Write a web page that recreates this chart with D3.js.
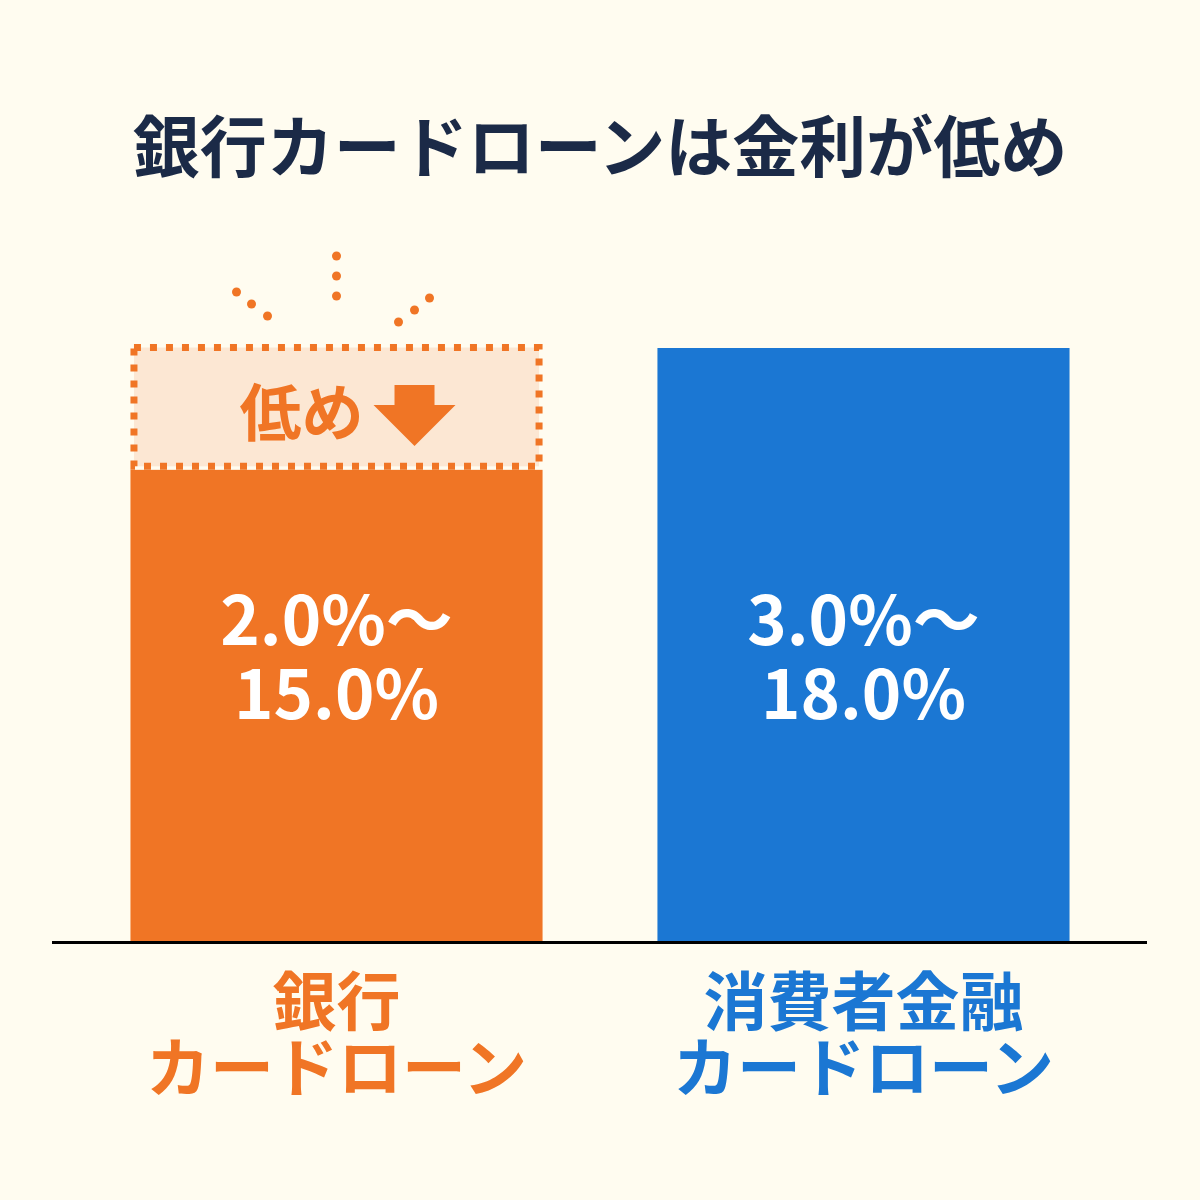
<!DOCTYPE html>
<html>
<head>
<meta charset="utf-8">
<script src="https://cdn.jsdelivr.net/npm/d3@7"></script>
<style>
  body { margin: 0; background: #fffcf0; }
  svg { display: block; font-family: "Noto Sans CJK JP", "Noto Sans", sans-serif; font-weight: 700; }
</style>
</head>
<body>
<div id="chart"></div>
<script>
var title = "銀行カードローンは金利が低め";
var categories = ["銀行カードローン", "消費者金融カードローン"];
var labelLines = [["銀行", "カードローン"], ["消費者金融", "カードローン"]];
var minRate = [2.0, 3.0];
var maxRate = [15.0, 18.0];
var colors = ["#f07525", "#1b77d3"];

var width = 1200, height = 1200;
var margin = {top: 348, right: 53, bottom: 259, left: 53};

var svg = d3.select("#chart").append("svg")
    .attr("width", width)
    .attr("height", height);

svg.append("rect").attr("width", width).attr("height", height).attr("fill", "#fffcf0");

var x = d3.scaleBand()
    .domain(categories)
    .range([margin.left, width - margin.right])
    .paddingInner(0.218)
    .paddingOuter(0.147);

// bars are drawn as an illustration, not from zero
var y = d3.scaleLinear()
    .domain([3.4, 18])
    .range([height - margin.bottom, margin.top]);

// title
svg.append("text")
    .attr("x", width / 2)
    .attr("y", 142)
    .attr("text-anchor", "middle")
    .attr("dominant-baseline", "central")
    .attr("fill", "#1b2a47")
    .style("font-size", "67px")
    .text(title);

// highlight box above the bank bar (gap up to the highest rate)
var topRate = d3.max(maxRate);
svg.append("rect")
    .attr("x", x(categories[0]) + 3.5)
    .attr("y", y(topRate) - 0.5)
    .attr("width", x.bandwidth() - 7)
    .attr("height", y(maxRate[0]) - y(topRate) - 3)
    .attr("fill", "#fce7d3")
    .attr("stroke", colors[0])
    .attr("stroke-width", 7)
    .attr("stroke-dasharray", "7 9");

var cx0 = x(categories[0]) + x.bandwidth() / 2;
var boxMid = (y(topRate) + y(maxRate[0])) / 2;

svg.append("text")
    .attr("x", cx0 - 35)
    .attr("y", boxMid)
    .attr("text-anchor", "middle")
    .attr("dominant-baseline", "central")
    .attr("fill", colors[0])
    .style("font-size", "62px")
    .text("低め");

// down arrow
var ax = cx0 + 78, ay = boxMid - 24;
svg.append("path")
    .attr("d", "M" + (ax - 20) + "," + ay + "h40v20h21l-41,41l-41,-41h21z")
    .attr("fill", colors[0]);

// burst dots (offsets from the top centre of the box)
var burst = [[0, -90], [0, -70], [0, -50],
             [-100, -54], [-85, -42], [-69, -30],
             [62, -24], [78, -36], [93, -48]];
svg.selectAll("circle.dot")
    .data(burst)
    .enter()
    .append("circle")
    .attr("class", "dot")
    .attr("cx", function(d) { return cx0 + d[0]; })
    .attr("cy", function(d) { return y(topRate) - 2 + d[1]; })
    .attr("r", 4.5)
    .attr("fill", colors[0]);

// bars
svg.selectAll("rect.bar")
    .data(categories)
    .enter()
    .append("rect")
    .attr("class", "bar")
    .attr("x", function(d) { return x(d); })
    .attr("y", function(d, i) { return y(maxRate[i]); })
    .attr("width", x.bandwidth())
    .attr("height", function(d, i) { return y.range()[0] - y(maxRate[i]); })
    .attr("fill", function(d, i) { return colors[i]; });

// rate labels inside bars
categories.forEach(function(c, i) {
  var t = svg.append("text")
      .attr("x", x(c) + x.bandwidth() / 2)
      .attr("text-anchor", "middle")
      .attr("fill", "#fff")
      .style("font-size", "67px");
  t.append("tspan")
      .attr("x", x(c) + x.bandwidth() / 2)
      .attr("y", 645)
      .text(minRate[i].toFixed(1) + "%～");
  t.append("tspan")
      .attr("x", x(c) + x.bandwidth() / 2)
      .attr("y", 719)
      .text(maxRate[i].toFixed(1) + "%");
});

// baseline
svg.append("line")
    .attr("x1", margin.left - 1)
    .attr("x2", width - margin.right)
    .attr("y1", y.range()[0] + 1.5)
    .attr("y2", y.range()[0] + 1.5)
    .attr("stroke", "#000")
    .attr("stroke-width", 3);

// category labels
categories.forEach(function(c, i) {
  labelLines[i].forEach(function(line, j) {
    svg.append("text")
      .attr("x", x(c) + x.bandwidth() / 2)
      .attr("y", 997 + j * 66)
      .attr("text-anchor", "middle")
      .attr("dominant-baseline", "central")
      .attr("fill", colors[i])
      .style("font-size", "64px")
      .text(line);
  });
});
</script>
</body>
</html>
